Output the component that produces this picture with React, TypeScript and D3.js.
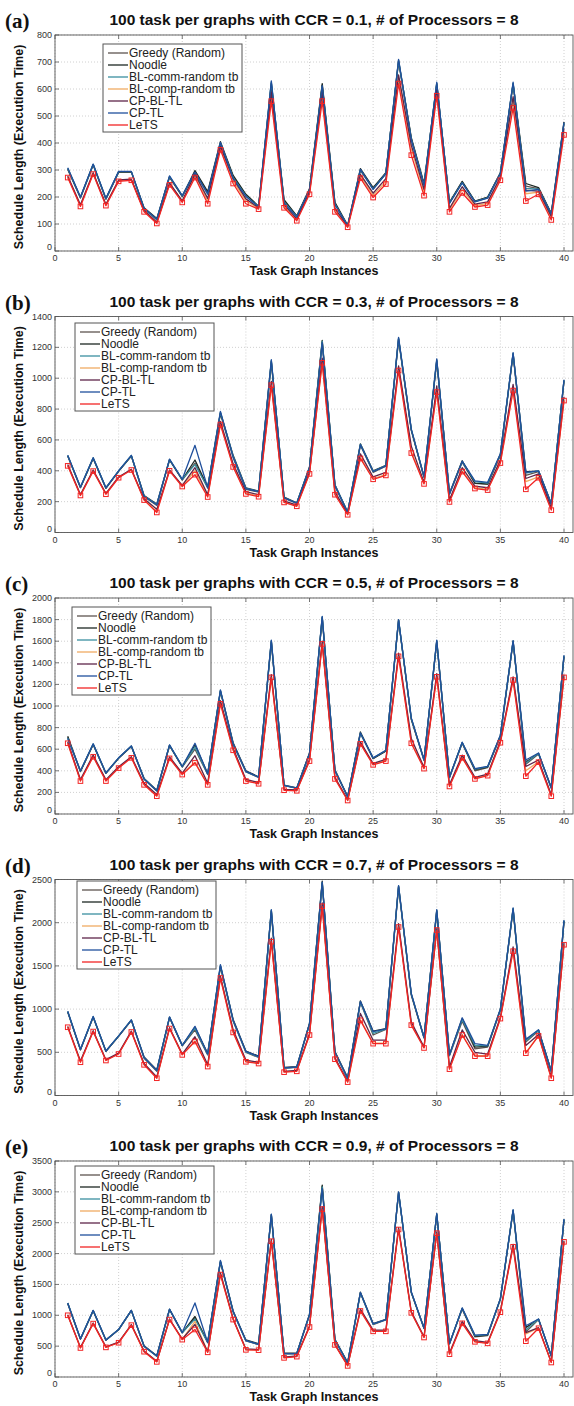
import React from "react";
import * as d3 from "d3";

// ---------- DATA ----------
const instances = [1,2,3,4,5,6,7,8,9,10,11,12,13,14,15,16,17,18,19,20,21,22,23,24,25,26,27,28,29,30,31,32,33,34,35,36,37,38,39,40];
const xTicks = [0,5,10,15,20,25,30,35,40];
const seriesNames = ["Greedy (Random)","Noodle","BL-comm-random tb","BL-comp-random tb","CP-BL-TL","CP-TL","LeTS"];
const panelLetters = ["(a)","(b)","(c)","(d)","(e)"];
const ccrValues = ["0.1","0.3","0.5","0.7","0.9"];
const yMaxes = [800,1400,2000,2500,3500];
const yTickSteps = [100,200,200,500,500];

// Panel (a) CCR = 0.1
const greedyA = [302,196,318,192,291,292,156,116,273,201,288,215,398,276,206,163,615,186,128,228,614,176,94,298,231,288,700,416,246,616,178,255,184,198,289,616,240,231,138,471];
const noodleA = [305,198,320,193,293,293,160,120,275,203,298,220,405,280,210,166,622,190,130,230,620,180,95,305,235,290,705,420,250,620,180,258,185,200,290,620,250,235,140,478];
const blCommA = [306,199,321,194,294,294,157,117,276,204,290,210,400,272,204,164,626,182,127,227,610,174,93,301,229,287,706,414,244,622,177,253,183,197,288,622,232,229,137,474];
const blCompA = [275,168,288,171,261,265,148,105,249,184,280,185,382,260,185,158,575,166,116,214,572,152,90,278,206,258,640,378,218,588,152,228,168,176,268,556,212,218,122,442];
const cpBlTlA = [278,171,290,173,263,266,150,107,252,186,284,195,388,268,193,160,588,172,119,218,588,158,91,284,214,268,652,392,228,598,158,238,174,182,274,572,225,222,128,454];
const cpTlA = [308,200,322,195,295,295,158,118,278,205,292,212,402,268,202,164,630,178,126,226,612,172,93,302,228,286,710,412,242,625,176,252,182,196,287,625,222,228,136,476];
const letsA = [272,165,285,168,258,262,145,102,245,180,272,175,375,250,175,155,555,160,112,210,555,145,88,270,198,248,620,355,205,575,145,215,163,170,262,530,185,210,115,430];

// Panel (b) CCR = 0.3
const greedyB = [495,290,480,286,396,495,232,175,472,340,450,288,770,485,280,262,1105,222,188,418,1235,300,128,565,390,430,1250,660,358,1110,248,455,318,312,500,1155,370,395,183,980];
const noodleB = [498,292,482,288,398,497,240,185,470,342,470,295,775,500,290,268,1110,230,192,425,1245,310,132,575,400,435,1255,665,360,1115,255,465,320,315,505,1160,395,398,188,985];
const blCommB = [499,294,484,289,399,499,237,182,474,344,440,292,780,495,287,266,1115,227,191,422,1240,307,131,572,397,433,1260,668,361,1120,252,460,330,320,508,1162,385,400,186,988];
const blCompB = [435,242,400,250,357,408,212,135,402,300,400,235,705,430,255,236,960,197,172,383,1105,250,117,485,350,375,1060,525,318,920,202,400,290,280,455,925,330,360,150,860];
const cpBlTlB = [440,246,405,253,360,410,218,150,405,305,420,245,720,445,265,245,980,205,178,390,1130,265,120,510,360,390,1080,560,325,950,210,420,300,290,470,960,350,380,160,880];
const cpTlB = [500,295,485,290,400,500,235,180,475,345,565,290,785,490,285,265,1120,225,190,420,1230,305,130,570,395,432,1265,670,362,1125,250,462,335,325,510,1165,390,400,185,990];
const letsB = [432,240,398,248,355,405,210,130,400,298,375,230,700,425,250,232,955,195,170,380,1100,245,115,480,345,370,1050,515,315,910,198,395,285,275,450,920,280,355,145,855];

// Panel (c) CCR = 0.5
const greedyC = [710,392,642,376,515,625,322,212,632,435,600,365,1135,645,390,338,1595,262,238,555,1815,398,158,745,512,582,1790,875,495,1595,335,655,400,430,720,1595,460,555,238,1455];
const noodleC = [720,395,645,378,518,628,330,220,635,438,640,375,1140,660,400,345,1600,268,242,565,1820,410,162,760,515,585,1795,880,505,1600,345,660,410,435,725,1600,480,560,245,1460];
const blCommC = [705,398,648,379,519,629,327,217,638,439,620,368,1145,648,393,340,1605,264,240,558,1825,402,160,748,518,588,1798,885,498,1605,338,662,415,438,728,1602,470,562,240,1465];
const blCompC = [660,310,535,310,430,525,275,170,520,370,480,275,1030,595,310,285,1270,222,218,495,1580,330,128,655,460,495,1470,660,425,1275,260,525,330,360,665,1245,400,485,170,1270];
const cpBlTlC = [668,320,545,318,438,530,285,180,528,378,540,285,1050,610,320,292,1290,228,222,505,1600,340,132,668,468,505,1490,700,432,1300,270,545,340,370,675,1270,440,500,178,1290];
const cpTlC = [700,400,650,380,520,630,325,215,640,440,655,370,1150,650,395,340,1610,265,240,560,1830,400,160,750,520,590,1800,890,500,1610,340,665,420,440,730,1605,500,565,240,1470];
const letsC = [655,305,530,305,425,520,270,165,515,365,475,270,1020,590,305,280,1265,220,215,490,1575,325,125,650,455,490,1460,655,420,1270,255,520,325,355,660,1240,350,480,165,1265];

// Panel (d) CCR = 0.7
const greedyD = [965,528,905,510,685,870,430,280,900,575,760,470,1490,860,500,440,2130,315,325,825,2460,495,198,1080,700,765,2410,1160,665,2130,460,860,540,560,990,2150,620,750,275,2010];
const noodleD = [970,530,910,512,688,872,445,295,905,578,790,485,1500,880,515,455,2140,325,335,835,2480,510,205,1095,745,775,2420,1170,675,2140,475,890,560,570,995,2160,640,755,285,2020];
const blCommD = [972,533,912,514,689,874,438,288,908,579,780,475,1505,865,505,445,2145,318,328,828,2465,498,200,1085,720,768,2425,1175,668,2145,465,880,580,575,998,2165,630,758,278,2025];
const blCompD = [795,390,745,410,485,740,360,205,780,475,630,340,1365,735,395,375,1790,275,285,705,2200,425,158,880,605,605,1960,820,555,1920,310,705,460,460,895,1680,495,695,205,1750];
const cpBlTlD = [800,400,750,415,490,745,370,215,785,480,680,355,1380,760,410,385,1820,280,290,715,2230,435,165,950,640,640,1990,850,560,1930,330,760,500,480,905,1720,580,705,215,1770];
const cpTlD = [975,535,915,515,690,875,440,290,910,580,800,480,1515,870,510,450,2150,320,330,830,2470,500,200,1090,740,770,2430,1180,670,2150,470,900,600,580,1000,2170,650,760,280,2030];
const letsD = [790,385,740,405,480,735,355,200,775,470,625,335,1360,730,390,370,1780,270,280,700,2190,420,155,870,600,600,1950,815,550,1915,305,700,455,455,890,1670,490,690,200,1745];

// Panel (e) CCR = 0.9
const greedyE = [1190,612,1072,595,765,1075,495,335,1092,715,960,555,1860,1055,585,525,2620,375,375,1005,3090,595,228,1360,850,925,2985,1365,785,2630,535,1100,650,670,1260,2690,730,930,335,2545];
const noodleE = [1195,615,1075,598,768,1078,505,345,1095,718,980,565,1870,1070,600,540,2630,385,385,1015,3110,610,235,1375,865,935,2990,1370,795,2640,545,1110,660,680,1265,2700,800,935,345,2550];
const blCommE = [1198,618,1078,599,769,1079,498,338,1098,719,940,558,1880,1058,588,528,2635,378,378,1008,3080,598,230,1365,855,928,2995,1375,788,2645,538,1115,670,685,1268,2705,760,938,338,2555];
const blCompE = [1005,475,870,485,560,845,415,250,935,610,900,405,1670,935,445,440,2210,315,335,815,2730,525,185,1075,745,745,2400,1045,645,2335,375,875,575,550,1055,2120,700,795,240,2195];
const cpBlTlE = [1010,480,875,490,565,850,420,255,940,615,850,410,1690,945,455,445,2230,320,340,825,2760,530,190,1100,760,760,2420,1060,650,2350,385,900,590,560,1070,2150,720,800,245,2210];
const cpTlE = [1200,620,1080,600,770,1080,500,340,1100,720,1200,560,1890,1060,590,530,2640,380,380,1010,3050,600,230,1370,860,930,3000,1380,790,2650,540,1120,680,690,1270,2710,830,940,340,2560];
const letsE = [1000,470,865,480,555,840,410,245,930,605,770,400,1660,930,440,435,2200,310,330,810,2720,520,180,1070,740,740,2390,1040,640,2330,370,870,570,545,1050,2110,580,790,235,2190];

const panelSeries = [
  [greedyA, noodleA, blCommA, blCompA, cpBlTlA, cpTlA, letsA],
  [greedyB, noodleB, blCommB, blCompB, cpBlTlB, cpTlB, letsB],
  [greedyC, noodleC, blCommC, blCompC, cpBlTlC, cpTlC, letsC],
  [greedyD, noodleD, blCommD, blCompD, cpBlTlD, cpTlD, letsD],
  [greedyE, noodleE, blCommE, blCompE, cpBlTlE, cpTlE, letsE],
];

// ---------- STYLE / LAYOUT ----------
const W = 574;
const H = 1406;
const colors = ["#5e5450", "#1c2823", "#3a8f9f", "#f0aa62", "#5e2449", "#1f4f9c", "#f22525"];
const plotTops = [35, 316.5, 598, 879.5, 1161];
const plotH = 216;
const plotLeft = 55;
const x40 = 564;
const plotRight = 573;
const legendPos = [
  { x: 103, y: 44 },
  { x: 75, y: 323 },
  { x: 72, y: 607 },
  { x: 77, y: 881 },
  { x: 75, y: 1166 },
];
const legendW = 139;
const legendH = 88;
const sans = "Arial, 'Liberation Sans', Helvetica, sans-serif";
const serif = "'Times New Roman', 'Liberation Serif', serif";

function Panel({ idx }: { idx: number }) {
  const top = plotTops[idx];
  const bottom = top + plotH;
  const x = d3.scaleLinear().domain([0, 40]).range([plotLeft, x40]);
  const y = d3.scaleLinear().domain([0, yMaxes[idx]]).range([bottom, top]);
  const yTicks = d3.range(0, yMaxes[idx] + 1, yTickSteps[idx]);
  const line = d3
    .line<number>()
    .x((_, i) => x(instances[i]))
    .y((d) => y(d));
  const series = panelSeries[idx];
  const lp = legendPos[idx];
  const midX = (plotLeft + plotRight) / 2;
  return (
    <g>
      <rect x={plotLeft} y={top} width={plotRight - plotLeft} height={plotH} fill="#fff" />
      {xTicks.map((t) => (
        <line key={"gx" + t} x1={x(t)} x2={x(t)} y1={top} y2={bottom} stroke="#c4c4c4" strokeWidth={0.8} strokeDasharray="1,2" />
      ))}
      {yTicks.map((t) => (
        <line key={"gy" + t} x1={plotLeft} x2={plotRight} y1={y(t)} y2={y(t)} stroke="#c4c4c4" strokeWidth={0.8} strokeDasharray="1,2" />
      ))}
      <rect x={plotLeft} y={top} width={plotRight - plotLeft} height={plotH} fill="none" stroke="#555" strokeWidth={0.9} />
      {xTicks.map((t) => (
        <g key={"tx" + t}>
          <line x1={x(t)} x2={x(t)} y1={bottom} y2={bottom - 4} stroke="#555" strokeWidth={0.8} />
          <line x1={x(t)} x2={x(t)} y1={top} y2={top + 4} stroke="#555" strokeWidth={0.8} />
          <text x={x(t)} y={bottom + 10} fontSize={9} fill="#333" textAnchor="middle" fontFamily={sans}>{t}</text>
        </g>
      ))}
      {yTicks.map((t) => (
        <g key={"ty" + t}>
          <line x1={plotLeft} x2={plotLeft + 4} y1={y(t)} y2={y(t)} stroke="#555" strokeWidth={0.8} />
          <text x={plotLeft - 3} y={t === 0 ? y(t) - 1 : y(t) + 3} fontSize={9} fill="#333" textAnchor="end" fontFamily={sans}>{t}</text>
        </g>
      ))}
      {series.map((vals, si) => (
        <path key={"s" + si} d={line(vals) || ""} fill="none" stroke={colors[si]} strokeWidth={1.3} strokeLinejoin="round" />
      ))}
      {series[6].map((v, i) => (
        <rect key={"m" + i} x={x(instances[i]) - 2.3} y={y(v) - 2.3} width={4.6} height={4.6} fill="none" stroke={colors[6]} strokeWidth={1} />
      ))}
      <rect x={lp.x} y={lp.y} width={legendW} height={legendH} fill="#fff" stroke="#555" strokeWidth={1} />
      {seriesNames.map((n, i) => {
        const ly = lp.y + 9 + i * 12;
        return (
          <g key={"l" + i}>
            <line x1={lp.x + 5} x2={lp.x + 25} y1={ly} y2={ly} stroke={colors[i]} strokeWidth={1.3} />
            <text x={lp.x + 26} y={ly + 4} fontSize={12} fill="#222" fontFamily={sans}>{n}</text>
          </g>
        );
      })}
      <text x={5} y={top - 7} fontSize={21} fontWeight="bold" fontFamily={serif} fill="#111">{panelLetters[idx]}</text>
      <text x={midX} y={top - 10} fontSize={15.5} fontWeight="bold" fontFamily={sans} textAnchor="middle" fill="#111">
        {`100 task per graphs with CCR = ${ccrValues[idx]}, # of Processors = 8`}
      </text>
      <text x={midX} y={bottom + 24} fontSize={12.5} fontWeight="bold" fontFamily={sans} textAnchor="middle" fill="#111">Task Graph Instances</text>
      <text transform={`translate(23, ${(top + bottom) / 2 + 4}) rotate(-90)`} fontSize={12.5} fontWeight="bold" fontFamily={sans} textAnchor="middle" fill="#111">
        Schedule Length (Execution Time)
      </text>
    </g>
  );
}

export default function App() {
  return (
    <svg width={W} height={H} viewBox={`0 0 ${W} ${H}`} style={{ position: "absolute", left: 0, top: 0, display: "block", background: "#fff" }}>
      <rect x={0} y={0} width={W} height={H} fill="#fff" />
      {panelLetters.map((_, i) => (
        <Panel key={i} idx={i} />
      ))}
    </svg>
  );
}
